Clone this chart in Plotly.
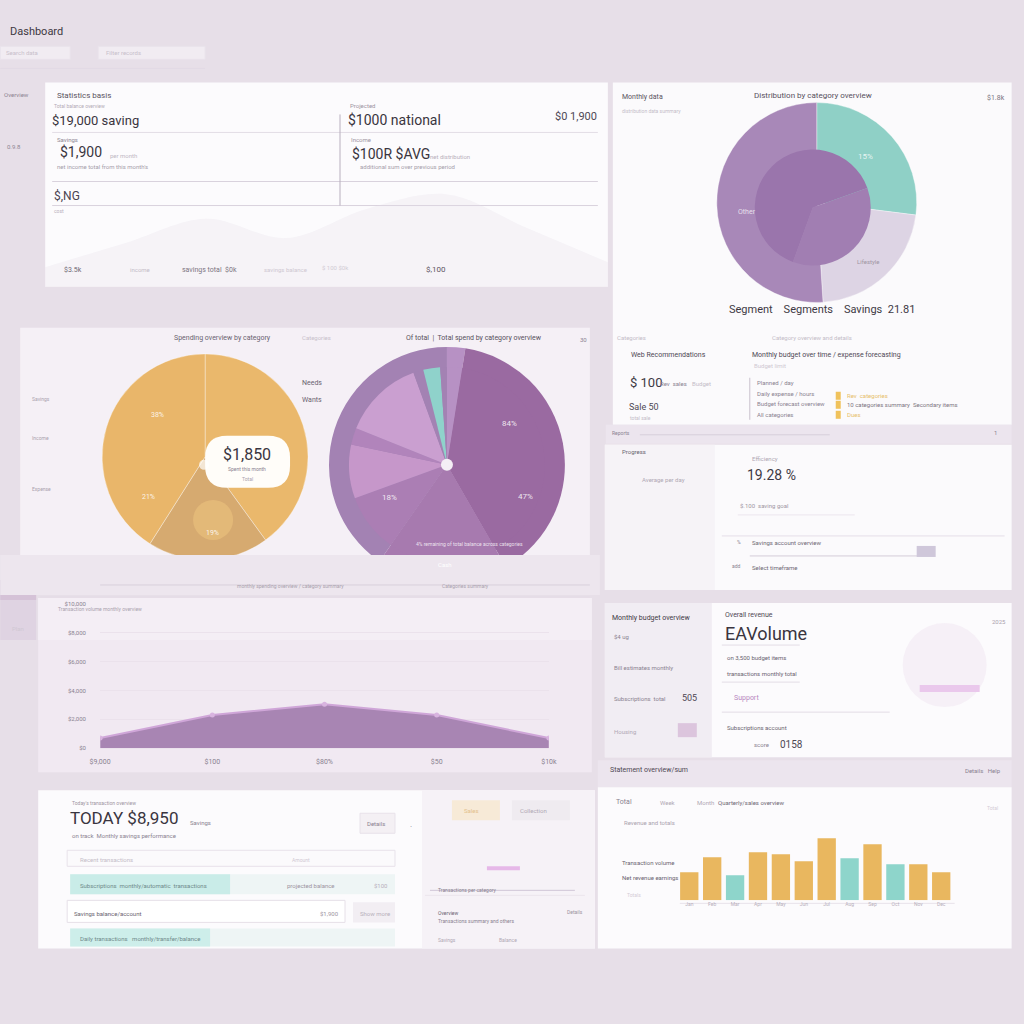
import plotly.graph_objects as go

W, H = 1024, 1024
FONT = "Liberation Sans Narrow, Roboto, Liberation Sans, sans-serif"

# ---------------- data ----------------
mix_labels = ["Savings", "Segments", "Spending"]
mix_values = [27, 22, 51]
mix_colors = ["#8fd0c6", "#ddd4e4", "#a888b8"]

core_labels = ["Fixed", "Flexible"]
core_values = [64, 36]
core_colors = ["#9a75ac", "#a17eb2"]

budget_labels = ["Needs", "Essentials", "Wants"]
budget_values = [40, 19, 41]
budget_colors = ["#eab86c", "#d6aa70", "#e9b66a"]

ring_labels = ["Top-up", "Housing", "Transport", "Reserve"]
ring_values = [9, 141, 65, 145]
ring_colors = ["#b791c4", "#9a6aa1", "#a77aaf", "#a382b3"]

cat_labels = ["Top-up", "Housing", "Transport", "Food", "Leisure", "Health",
              "Gifts", "Reserve", "Travel", "Reserve "]
cat_values = [9, 141, 65, 35, 32, 10, 48, 6, 10, 4]
cat_colors = ["#b791c4", "#9a6aa1", "#a77aaf", "#ab7eb4", "#c697ca",
              "#b184bb", "#ca9fd0", "#a382b3", "#8fd2cb", "#a382b3"]

trend_labels = ["$9,000", "$100", "$80%", "$50", "$10k"]
trend_values = [7, 23, 30.5, 23, 7]
trend_ticks = ["$0", "$2,000", "$4,000", "$6,000", "$8,000", "$10,000"]

bg_values = [20, 45, 70, 50, 80, 95, 60, 25]

bar_labels = ["Jan", "Feb", "Mar", "Apr", "May", "Jun",
              "Jul", "Aug", "Sep", "Oct", "Nov", "Dec"]
bar_values = [28, 43, 25, 48, 46, 39, 62, 42, 56, 36, 36, 28]
bar_group = ["Sales", "Sales", "Refunds", "Sales", "Sales", "Sales",
             "Sales", "Refunds", "Sales", "Refunds", "Sales", "Sales"]
group_colors = {"Sales": "#e9b75f", "Refunds": "#8ed5cb"}

# layout helpers: pixel position -> paper fraction (with a small calibration)
CAL_X = (10.8, 0.982)
CAL_Y = (4.7, 0.992)


def X(px):
    return ((px - CAL_X[0]) / CAL_X[1]) / W


def Y(py):
    return 1 - ((py - CAL_Y[0]) / CAL_Y[1]) / H


fig = go.Figure()

# ---------------- charts ----------------
fig.add_trace(go.Scatter(
    x=list(range(len(bg_values))), y=bg_values, mode="lines",
    line=dict(color="rgba(0,0,0,0)", shape="spline"), fill="tozeroy",
    fillcolor="rgba(226,218,231,0.25)", xaxis="x3", yaxis="y3",
    hoverinfo="skip", showlegend=False))

# top-right pie
fig.add_trace(go.Pie(
    labels=mix_labels, values=mix_values, sort=False, direction="clockwise",
    rotation=0, marker=dict(colors=mix_colors, line=dict(color="rgba(255,255,255,0.35)", width=1)),
    textinfo="none", showlegend=False,
    domain=dict(x=[X(717), X(917)], y=[Y(303), Y(103)])))
fig.add_trace(go.Pie(
    labels=core_labels, values=core_values, sort=False, direction="clockwise",
    rotation=200, marker=dict(colors=core_colors, line=dict(width=0)),
    textinfo="none", showlegend=False,
    domain=dict(x=[X(755), X(871)], y=[Y(266), Y(150)])))

# yellow pie
fig.add_trace(go.Pie(
    labels=budget_labels, values=budget_values, sort=False, direction="clockwise",
    rotation=0, marker=dict(colors=budget_colors, line=dict(color="rgba(255,255,255,0.35)", width=1)),
    textinfo="none", showlegend=False,
    domain=dict(x=[X(102), X(308)], y=[Y(560), Y(354)])))

# purple pie (outer ring + inner slices)
fig.add_trace(go.Pie(
    labels=ring_labels, values=ring_values, sort=False, direction="clockwise",
    rotation=0, marker=dict(colors=ring_colors, line=dict(width=0)),
    textinfo="none", showlegend=False,
    domain=dict(x=[X(329), X(565)], y=[Y(583), Y(347)])))
fig.add_trace(go.Pie(
    labels=cat_labels, values=cat_values, sort=False, direction="clockwise",
    rotation=0, marker=dict(colors=cat_colors, line=dict(width=0)),
    textinfo="none", showlegend=False,
    domain=dict(x=[X(349), X(545)], y=[Y(563), Y(367)])))

# area chart
fig.add_trace(go.Scatter(
    x=list(range(len(trend_values))), y=trend_values, mode="lines+markers",
    line=dict(color="#cfa6d8", width=2), marker=dict(size=5, color="#d8b4df"),
    fill="tozeroy", fillcolor="#a885b3", xaxis="x", yaxis="y",
    hoverinfo="skip", showlegend=False))

# bar chart
fig.add_trace(go.Bar(
    x=bar_labels, y=bar_values,
    marker=dict(color=[group_colors[g] for g in bar_group], line=dict(width=0)),
    xaxis="x2", yaxis="y2", showlegend=False, width=0.8))

# ---------------- panels ----------------
shapes = []


def rect(x0, y0, x1, y1, color, layer="below", line=None):
    shapes.append(dict(type="rect", xref="paper", yref="paper",
                       x0=X(x0), x1=X(x1), y0=Y(y1), y1=Y(y0),
                       fillcolor=color, layer=layer,
                       line=dict(width=0) if line is None else line))


def hline(x0, x1, y, color="#e6e0e9", width=1, layer="below"):
    shapes.append(dict(type="line", xref="paper", yref="paper",
                       x0=X(x0), x1=X(x1), y0=Y(y), y1=Y(y),
                       line=dict(color=color, width=width), layer=layer))


def vline(x, y0, y1, color="#d8d0dc", width=1, layer="below"):
    shapes.append(dict(type="line", xref="paper", yref="paper",
                       x0=X(x), x1=X(x), y0=Y(y0), y1=Y(y1),
                       line=dict(color=color, width=width), layer=layer))


def circle(cx, cy, r, color, layer="above", line=None):
    shapes.append(dict(type="circle", xref="paper", yref="paper",
                       x0=X(cx - r), x1=X(cx + r), y0=Y(cy + r), y1=Y(cy - r),
                       fillcolor=color, layer=layer,
                       line=dict(width=0) if line is None else line))


# full background (covers edges)
rect(-20, -20, 1044, 1044, "#e7dfe8")

# header boxes
rect(0, 47, 70, 60, "#f1ecf2", line=dict(color="#e9e3eb", width=1))
rect(98, 47, 205, 60, "#f1ecf2", line=dict(color="#e9e3eb", width=1))
hline(0, 205, 69, "#e2dae4")

# top-left panel
rect(45, 83, 608, 287, "#fcfbfd")
hline(52, 598, 133, "#e3dde6")
hline(52, 598, 182, "#d9d2dd")
hline(52, 598, 206, "#d9d2dd")
vline(340, 115, 206, "#b8afbe")

# top-right panel
rect(613, 83, 1012, 425, "#fbfafc")
rect(606, 425, 1012, 444, "#ece5ee")
hline(640, 830, 435, "#d7cfdb")
for yy in (396, 405, 415):
    rect(836, yy - 4, 841, yy + 4, "#f0c25c", layer="above")
vline(750, 378, 420, "#c9c0cd")

# middle-left pie section
rect(20, 328, 590, 555, "#f5f0f6")
rect(0, 555, 600, 595, "#ede6ee", layer="above")
hline(100, 590, 585, "#d8d0dc", layer="above")
hline(40, 590, 597, "#e4dce6", layer="above")
x0, x1, y0, y1, r = 205, 290, 436, 488, 22
path = (f"M {X(x0 + r)},{Y(y0)} L {X(x1 - r)},{Y(y0)} Q {X(x1)},{Y(y0)} {X(x1)},{Y(y0 + r)} "
        f"L {X(x1)},{Y(y1 - r)} Q {X(x1)},{Y(y1)} {X(x1 - r)},{Y(y1)} "
        f"L {X(x0 + r)},{Y(y1)} Q {X(x0)},{Y(y1)} {X(x0)},{Y(y1 - r)} "
        f"L {X(x0)},{Y(y0 + r)} Q {X(x0)},{Y(y0)} {X(x0 + r)},{Y(y0)} Z")
shapes.append(dict(type="path", xref="paper", yref="paper", path=path,
                   fillcolor="#fffdf9", line=dict(width=0), layer="above"))
circle(213, 520, 20, "rgba(238,196,128,0.55)")
circle(204, 465, 5, "rgba(255,255,255,0.7)")
circle(447, 465, 6, "#f4eef5")

# area chart panel
rect(38, 598, 592, 772, "#f1e9f2")
rect(38, 598, 592, 640, "#f4eef5")

# right middle panel
rect(605, 445, 1012, 590, "#fbfafc")
rect(605, 445, 715, 590, "#f6f3f7")
hline(722, 1005, 536, "#e5dfe8")
hline(750, 935, 556, "#d4ccd8")
hline(738, 855, 515, "#ece6ee")
rect(917, 546, 936, 557, "#cfc7da")

# right panel C
rect(605, 603, 1012, 757, "#fcfbfd")
rect(605, 603, 712, 757, "#f1edf3")
hline(722, 800, 645, "#e3dde6")
hline(722, 800, 682, "#e3dde6")
hline(722, 890, 712, "#e3dde6")
circle(945, 665, 42, "rgba(245,238,246,0.9)", layer="below")
rect(920, 685, 980, 692, "#eac8ec", layer="below")
rect(678, 723, 697, 737, "#dcc5dd", layer="below")

# bottom-left panel
rect(38, 790, 595, 948, "#fcfbfd")
rect(422, 790, 595, 948, "#f6f2f7")
rect(67, 850, 395, 866, "#fbfafc", line=dict(color="#e8e2ea", width=1))
rect(70, 874, 395, 894, "#eef5f5")
rect(70, 874, 230, 894, "#c9ece8")
rect(67, 900, 345, 922, "#ffffff", line=dict(color="#e6e0e8", width=1))
rect(353, 902, 395, 922, "#f2eef3")
rect(70, 928, 395, 946, "#eef5f5")
rect(70, 928, 210, 946, "#cdeeea")
rect(360, 813, 395, 833, "#f4f0f4", line=dict(color="#e8e2ea", width=1))
hline(430, 575, 890, "#cfc6d6")
hline(425, 585, 895, "#ebe5ec")
rect(452, 800, 500, 820, "#f7ead7")
rect(512, 800, 570, 820, "#efebf0")
rect(487, 866, 520, 870, "#e6b8e8")

# bottom-right panel
rect(598, 760, 1012, 787, "#ece5ee")
rect(598, 787, 1012, 948, "#fcfbfd")
hline(680, 955, 903, "#e8e2ea")

# left blur accent
rect(0, 580, 36, 600, "rgba(190,160,195,0.45)")
rect(0, 600, 36, 640, "rgba(210,190,215,0.35)")

# ---------------- text ----------------
ann = []


def T(x, y, text, size=8, color="#8a8290", anchor="left"):
    ann.append(dict(x=X(x), y=Y(y), xref="paper", yref="paper", text=text,
                    showarrow=False, xanchor=anchor, yanchor="middle",
                    font=dict(family=FONT, size=size, color=color)))


T(8, 32, "Dashboard", 11, "#3d3842")
T(4, 53, "Search data", 6, "#c8c0cb")
T(104, 53, "Filter records", 6, "#c8c0cb")
T(2, 95, "Overview", 6, "#8d8592")
T(5, 147, "0.9.8", 6, "#8d8592")

# top-left panel
T(55, 96, "Statistics basis", 8, "#5a5360")
T(52, 107, "Total balance overview", 5, "#b2aab6")
T(50, 121, "$19,000 saving", 13, "#3a3540")
T(55, 140, "Savings", 6, "#8e8693")
T(58, 153, "$1,900", 14, "#3a3540")
T(108, 156, "per month", 6, "#c0b8c4")
T(55, 167, "net income total from this month's", 6, "#a59daa")
T(52, 196, "$,NG", 12, "#4a4450")
T(52, 211, "cost", 5, "#b8b0bc")
T(348, 106, "Projected", 6, "#9c94a1")
T(346, 121, "$1000 national", 14, "#3a3540")
T(553, 117, "$0 1,900", 11, "#4e4854")
T(349, 140, "Income", 6, "#9c94a1")
T(350, 155, "$100R $AVG", 14, "#3a3540")
T(428, 157, "net distribution", 6, "#b8b0bc")
T(358, 167, "additional sum over previous period", 6, "#a59daa")
T(62, 270, "$3.5k", 7, "#6f6874")
T(128, 270, "income", 6, "#c4bcc8")
T(180, 270, "savings total  $0k", 7, "#7d7582")
T(262, 270, "savings balance", 6, "#cfc8d2")
T(320, 268, "$ 100 $0k", 6, "#d2ccd5")
T(424, 270, "$,100", 8, "#5e5764")

# top-right panel
T(620, 98, "Monthly data", 7, "#5a5360")
T(620, 112, "distribution data summary", 5, "#c4bcc8")
T(813, 96, "Distribution by category overview", 8, "#57505d", "center")
T(985, 99, "$1.8k", 7, "#7a7380")
T(866, 157, "15%", 8, "rgba(255,255,255,0.8)", "center")
T(747, 212, "Other", 7, "rgba(255,255,255,0.75)", "center")
T(868, 262, "Lifestyle", 6, "#9d95a2", "center")
T(822, 310, "Segment    Segments    Savings  21.81", 11, "#3e3944", "center")
T(615, 338, "Categories", 6, "#c4bcc8")
T(770, 338, "Category overview and details", 6, "#c4bcc8")
T(629, 355, "Web Recommendations", 7, "#4e4854")
T(750, 355, "Monthly budget over time / expense forecasting", 7, "#4e4854")
T(752, 366, "Budget limit", 6, "#cfc8d2")
T(628, 383, "$ 100", 13, "#3e3944")
T(658, 384, "Rev  sales", 6, "#8a8290")
T(690, 384, "Budget", 6, "#c4bcc8")
T(755, 383, "Planned / day", 6, "#8a8290")
T(755, 394, "Daily expense / hours", 6, "#8a8290")
T(755, 404, "Budget forecast overview", 6, "#8a8290")
T(755, 415, "All categories", 6, "#8a8290")
T(845, 396, "Rev  categories", 6, "#e7c06a")
T(845, 405, "10 categories summary  Secondary items", 6, "#7d7582")
T(845, 415, "Dues", 6, "#e7c06a")
T(627, 407, "Sale 50", 9, "#4e4854")
T(628, 418, "total sale", 5, "#c4bcc8")
T(610, 433, "Reports", 5, "#8a8290")
T(992, 433, "1", 6, "#8a8290")

# middle-left pies
T(172, 338, "Spending overview by category", 7, "#6a6370")
T(300, 338, "Categories", 6, "#c8c0cb")
T(404, 338, "Of total  |  Total spend by category overview", 7, "#57505d")
T(578, 340, "30", 6, "#8a8290")
T(30, 399, "Savings", 5, "#aaa2ae")
T(30, 438, "Income", 5, "#aaa2ae")
T(30, 489, "Expense", 5, "#aaa2ae")
T(300, 383, "Needs", 7, "#6a6370")
T(300, 400, "Wants", 7, "#6a6370")
T(157, 415, "38%", 7, "rgba(255,255,255,0.85)", "center")
T(148, 497, "21%", 7, "rgba(255,255,255,0.85)", "center")
T(212, 533, "19%", 7, "rgba(255,255,255,0.85)", "center")
T(247, 455, "$1,850", 16, "#3a3540", "center")
T(247, 469, "Spent this month", 5, "#8a8290", "center")
T(247, 479, "Total", 5, "#a9a1ad", "center")
T(510, 424, "84%", 8, "rgba(255,255,255,0.85)", "center")
T(526, 497, "47%", 8, "rgba(255,255,255,0.85)", "center")
T(390, 498, "18%", 8, "rgba(255,255,255,0.85)", "center")
T(470, 544, "4% remaining of total balance across categories", 5, "rgba(255,255,255,0.8)", "center")
T(445, 565, "Cash", 6, "#ffffff", "center")
T(235, 586, "monthly spending overview / category summary", 5, "#a9a1ad")
T(440, 586, "Categories summary", 5, "#a9a1ad")

# area chart
T(56, 609, "Transaction volume monthly overview", 5, "#aaa2ae")
T(10, 628, "Plan", 6, "#d0c8d3")

# right middle panel
T(620, 452, "Progress", 6, "#6a6370")
T(640, 480, "Average per day", 6, "#b0a8b4")
T(750, 459, "Efficiency", 6, "#b0a8b4")
T(745, 475, "19.28 %", 14, "#3e3944")
T(738, 506, "$.100  saving goal", 6, "#9e96a3")
T(735, 542, "%", 5, "#8a8290")
T(750, 543, "Savings account overview", 6, "#6f6874")
T(730, 566, "add", 5, "#8a8290")
T(750, 568, "Select timeframe", 6, "#6f6874")

# right panel C
T(610, 618, "Monthly budget overview", 7, "#3e3944")
T(612, 636, "$4 ug", 6, "#8a8290")
T(612, 667, "Bill estimates monthly", 6, "#8a8290")
T(612, 698, "Subscriptions  total", 6, "#8a8290")
T(680, 698, "505", 9, "#4e4854")
T(612, 731, "Housing", 6, "#b0a8b4")
T(723, 615, "Overall revenue", 7, "#4e4854")
T(723, 633, "EAVolume", 18, "#3a3540")
T(725, 657, "on 3,500 budget items", 6, "#6a6370")
T(725, 673, "transactions monthly total", 6, "#6a6370")
T(732, 698, "Support", 7, "#b787c0")
T(725, 727, "Subscriptions account", 6, "#6a6370")
T(752, 744, "score", 6, "#8a8290")
T(778, 744, "0158", 10, "#4e4854")
T(990, 621, "2025", 6, "#aaa2ae")

# bottom-left panel
T(70, 803, "Today's transaction overview", 5, "#9c94a1")
T(68, 818, "TODAY $8,950", 17, "#3a3540")
T(188, 822, "Savings", 6, "#8a8290")
T(70, 835, "on track  Monthly savings performance", 6, "#8a8290")
T(365, 823, "Details", 6, "#8a8290")
T(408, 826, "\u00b7", 8, "#8a8290")
T(78, 859, "Recent transactions", 6, "#c4bcc8")
T(290, 860, "Amount", 5, "#d0c8d3")
T(78, 885, "Subscriptions  monthly/automatic  transactions", 6, "#6f8a8a")
T(285, 885, "projected balance", 6, "#9c94a1")
T(372, 885, "$100", 6, "#b8b0bc")
T(72, 913, "Savings balance/account", 6, "#6a6370")
T(318, 913, "$1,900", 6, "#9c94a1")
T(358, 913, "Show more", 6, "#b8b0bc")
T(78, 938, "Daily transactions   monthly/transfer/balance", 6, "#6f8a8a")
T(462, 810, "Sales", 6, "#e3c08c")
T(518, 810, "Collection", 6, "#b0a8b4")
T(436, 890, "Transactions per category", 5, "#8a8290")
T(436, 913, "Overview", 5, "#6a6370")
T(436, 921, "Transactions summary and others", 5, "#8a8290")
T(565, 912, "Details", 5, "#9c94a1")
T(436, 940, "Savings", 5, "#b0a8b4")
T(497, 940, "Balance", 5, "#b0a8b4")

# bottom-right panel
T(608, 770, "Statement overview/sum", 7, "#4e4854")
T(963, 770, "Details   Help", 6, "#8a8290")
T(614, 802, "Total", 7, "#8a8290")
T(658, 802, "Week", 6, "#b0a8b4")
T(695, 802, "Month", 6, "#b0a8b4")
T(716, 802, "Quarterly/sales overview", 6, "#6f6874")
T(622, 822, "Revenue and totals", 6, "#aaa2ae")
T(620, 862, "Transaction volume", 6, "#6a6370")
T(620, 877, "Net revenue earnings", 6, "#6a6370")
T(625, 895, "Totals", 5, "#d4ccd6")
T(985, 808, "Total", 5, "#d4ccd6")

fig.update_layout(
    width=W, height=H, margin=dict(l=0, r=0, t=0, b=0, pad=0),
    paper_bgcolor="#e7dfe8", plot_bgcolor="rgba(0,0,0,0)",
    shapes=shapes, annotations=ann, showlegend=False,
    font=dict(family=FONT),
    bargap=0.2,
    xaxis=dict(domain=[X(100), X(549)], range=[0, 4], tickvals=list(range(5)),
               ticktext=trend_labels, showgrid=False, zeroline=False, anchor="y",
               tickfont=dict(size=7, color="#8a8290"), ticks="outside",
               ticklen=6, tickcolor="rgba(0,0,0,0)", showline=False),
    yaxis=dict(domain=[Y(748), Y(604)], range=[0, 100], anchor="x",
               tickvals=[0, 20, 40, 60, 80, 100], ticktext=trend_ticks,
               showgrid=True, gridcolor="#ebe2ec", zeroline=False,
               tickfont=dict(size=6, color="#8a8290"), ticks="outside",
               ticklen=12, tickcolor="rgba(0,0,0,0)"),
    xaxis2=dict(domain=[X(678), X(953)], anchor="y2", showgrid=False, zeroline=False,
                tickfont=dict(size=5, color="#b8b0bc"), ticks="", showline=False),
    yaxis2=dict(domain=[Y(900), Y(830)], anchor="x2", range=[0, 70], showgrid=False,
                zeroline=False, showticklabels=False),
    xaxis3=dict(domain=[X(45), X(608)], anchor="y3", range=[0, len(bg_values) - 1], visible=False),
    yaxis3=dict(domain=[Y(287), Y(190)], anchor="x3", range=[0, 100], visible=False),
)

fig.write_html("out.html")
